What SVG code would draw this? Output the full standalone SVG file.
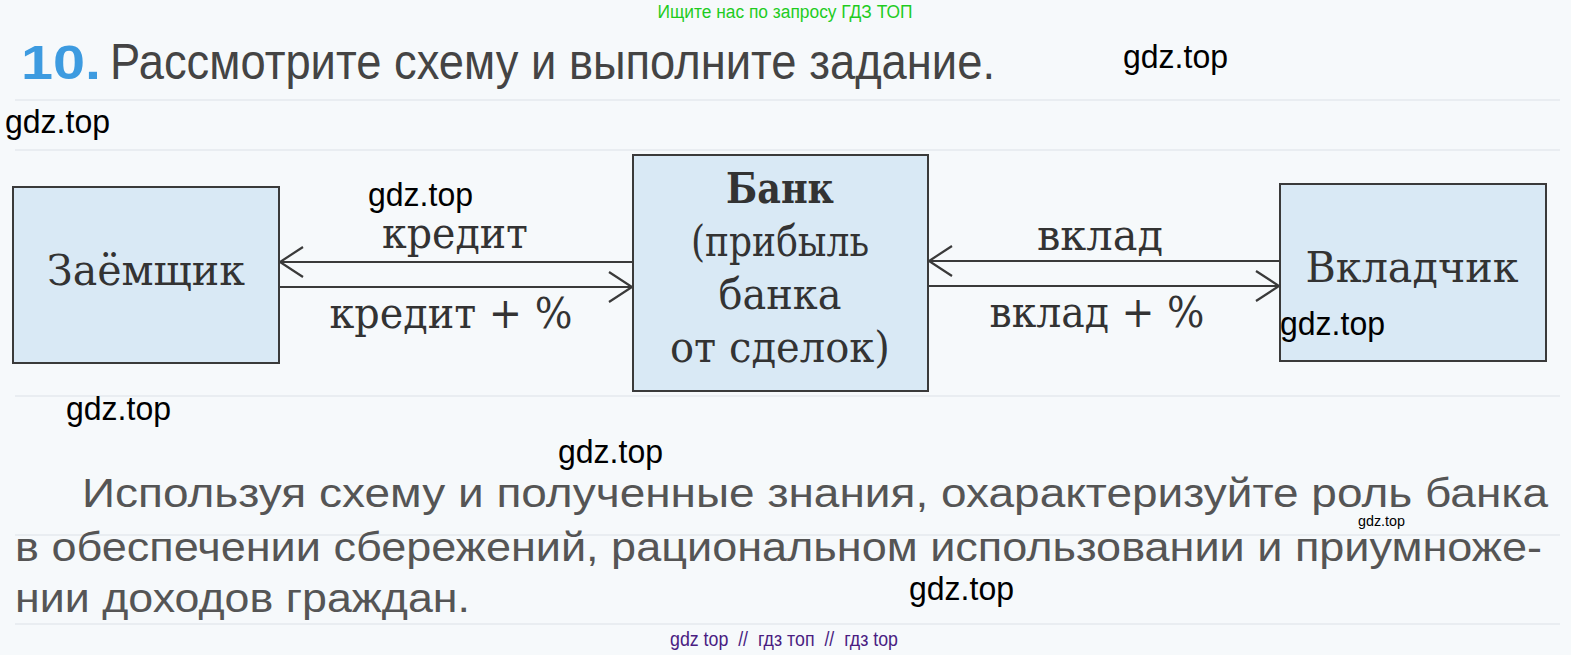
<svg xmlns="http://www.w3.org/2000/svg" width="1571" height="655" viewBox="0 0 1571 655">
<defs>
<style>
.bg{fill:#f6f9fb}
.box{fill:#d9e9f5;stroke:#3a3a3a;stroke-width:2}
.lbl{font-family:"DejaVu Serif","Liberation Serif",serif;fill:#333;font-size:42px}
.bold{font-weight:bold}
.wm{font-family:"Liberation Sans",Arial,sans-serif;fill:#000;font-size:33px}
.body{font-family:"Liberation Sans",Arial,sans-serif;fill:#555;font-size:40px}
.title{font-family:"Liberation Sans",Arial,sans-serif;fill:#444;font-size:50px}
.line{stroke:#3a3a3a;stroke-width:2.2;fill:none}
.faint{stroke:#e9edf1;stroke-width:2}
</style>
</defs>
<rect class="bg" x="0" y="0" width="1571" height="655"/>
<g id="background-rules">
<line class="faint" x1="15" y1="100" x2="1560" y2="100"/>
<line class="faint" x1="15" y1="150" x2="1560" y2="150"/>
<line class="faint" x1="15" y1="396" x2="1560" y2="396"/>
<line class="faint" x1="15" y1="535" x2="1560" y2="535"/>
<line class="faint" x1="15" y1="624" x2="1560" y2="624"/>
</g>
<g id="header">
<text x="785" y="18" text-anchor="middle" font-family="Liberation Sans,Arial,sans-serif" font-size="18" fill="#1fcc1f" textLength="255" lengthAdjust="spacingAndGlyphs">Ищите нас по запросу ГДЗ ТОП</text>
<text x="21" y="79" font-family="Liberation Sans,Arial,sans-serif" font-size="48" font-weight="bold" fill="#3d9be0" textLength="80" lengthAdjust="spacingAndGlyphs">10.</text>
<text class="title" x="110" y="79" textLength="885" lengthAdjust="spacingAndGlyphs">Рассмотрите схему и выполните задание.</text>
</g>
<g id="connectors">
<line class="line" x1="280" y1="262" x2="633" y2="262"/>
<polyline class="line" points="303,247 280,262 303,277"/>
<line class="line" x1="279" y1="287" x2="632" y2="287"/>
<polyline class="line" points="609,272 632,287 609,302"/>
<line class="line" x1="929" y1="261" x2="1280" y2="261"/>
<polyline class="line" points="952,246 929,261 952,276"/>
<line class="line" x1="928" y1="286" x2="1279" y2="286"/>
<polyline class="line" points="1256,271 1279,286 1256,301"/>
<text class="lbl" x="455" y="248" text-anchor="middle" textLength="146" lengthAdjust="spacingAndGlyphs">кредит</text>
<text class="lbl" x="451" y="328" text-anchor="middle" textLength="243" lengthAdjust="spacingAndGlyphs">кредит + %</text>
<text class="lbl" x="1100" y="250" text-anchor="middle" textLength="126" lengthAdjust="spacingAndGlyphs">вклад</text>
<text class="lbl" x="1097" y="327" text-anchor="middle" textLength="215" lengthAdjust="spacingAndGlyphs">вклад + %</text>
</g>
<g id="node-borrower">
<rect class="box" x="13" y="187" width="266" height="176"/>
<text class="lbl" x="146" y="285" text-anchor="middle" textLength="198" lengthAdjust="spacingAndGlyphs">Заёмщик</text>
</g>
<g id="node-bank">
<rect class="box" x="633" y="155" width="295" height="236"/>
<text class="lbl bold" x="780" y="203" text-anchor="middle" textLength="108" lengthAdjust="spacingAndGlyphs">Банк</text>
<text class="lbl" x="780" y="256" text-anchor="middle" textLength="178" lengthAdjust="spacingAndGlyphs">(прибыль</text>
<text class="lbl" x="780" y="309" text-anchor="middle" textLength="123" lengthAdjust="spacingAndGlyphs">банка</text>
<text class="lbl" x="780" y="362" text-anchor="middle" textLength="220" lengthAdjust="spacingAndGlyphs">от сделок)</text>
</g>
<g id="node-depositor">
<rect class="box" x="1280" y="184" width="266" height="177"/>
<text class="lbl" x="1412" y="282" text-anchor="middle" textLength="213" lengthAdjust="spacingAndGlyphs">Вкладчик</text>
</g>
<g id="body-text">
<text class="body" x="82" y="507" textLength="1466" lengthAdjust="spacingAndGlyphs">Используя схему и полученные знания, охарактеризуйте роль банка</text>
<text class="body" x="15" y="561" textLength="1527" lengthAdjust="spacingAndGlyphs">в обеспечении сбережений, рациональном использовании и приумноже-</text>
<text class="body" x="15" y="612" textLength="455" lengthAdjust="spacingAndGlyphs">нии доходов граждан.</text>
</g>
<g id="watermarks">
<text class="wm" x="1123" y="68" textLength="105" lengthAdjust="spacingAndGlyphs">gdz.top</text>
<text class="wm" x="5" y="133" textLength="105" lengthAdjust="spacingAndGlyphs">gdz.top</text>
<text class="wm" x="368" y="206" textLength="105" lengthAdjust="spacingAndGlyphs">gdz.top</text>
<text class="wm" x="1280" y="335" textLength="105" lengthAdjust="spacingAndGlyphs">gdz.top</text>
<text class="wm" x="66" y="420" textLength="105" lengthAdjust="spacingAndGlyphs">gdz.top</text>
<text class="wm" x="558" y="463" textLength="105" lengthAdjust="spacingAndGlyphs">gdz.top</text>
<text class="wm" x="909" y="600" textLength="105" lengthAdjust="spacingAndGlyphs">gdz.top</text>
<text x="1358" y="526" font-family="Liberation Sans,Arial,sans-serif" font-size="15" fill="#000" textLength="47" lengthAdjust="spacingAndGlyphs">gdz.top</text>
<text x="670" y="646" font-family="Liberation Sans,Arial,sans-serif" font-size="20" fill="#4a1d82" textLength="228" lengthAdjust="spacingAndGlyphs" xml:space="preserve">gdz top  //  гдз топ  //  гдз top</text>
</g>
</svg>
